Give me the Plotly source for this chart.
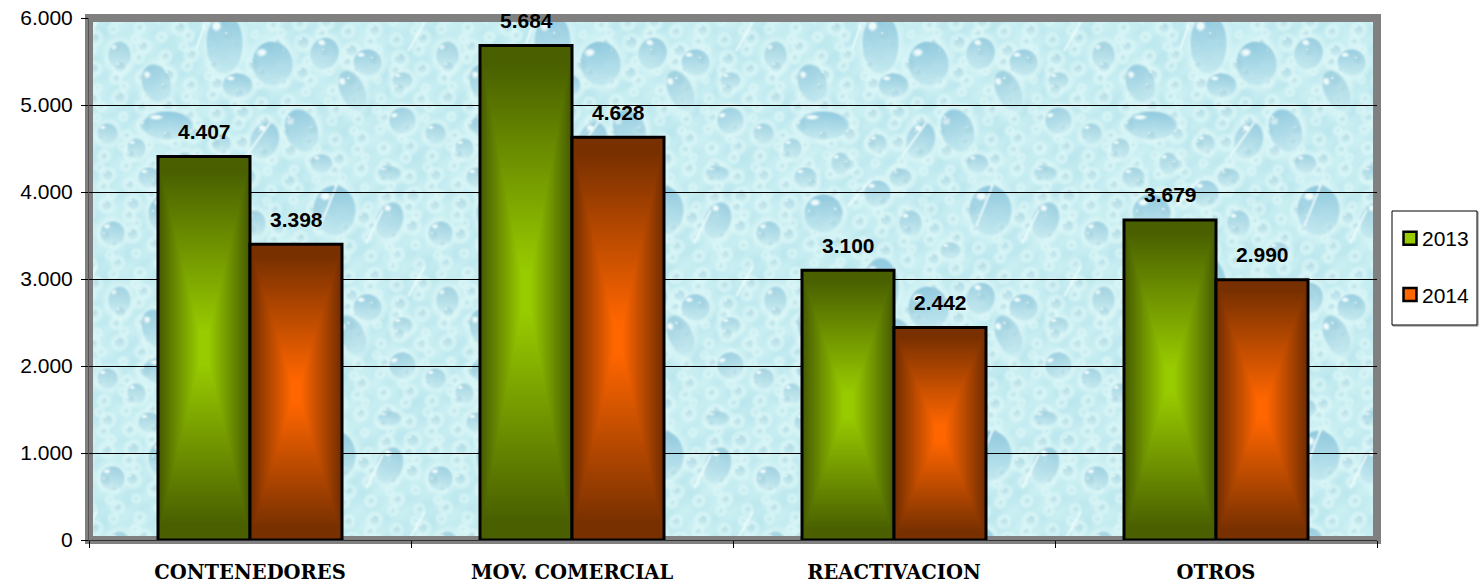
import base64, struct, zlib
import numpy as np
import plotly.graph_objects as go

categories = ["CONTENEDORES", "MOV. COMERCIAL", "REACTIVACION", "OTROS"]
series_names = ["2013", "2014"]
values_2013 = [4407, 5684, 3100, 3679]
values_2014 = [3398, 4628, 2442, 2990]
y_ticks = [0, 1000, 2000, 3000, 4000, 5000, 6000]

# Decorative wallpaper: large water drops of one tile (x, y, rx, ry, angle)
drops = [
    (200, 23, 19, 32, 0), (248, 43, 21, 23, -10), (300, 33, 15, 17, 20), (328, 70, 13, 23, -25),
    (213, 65, 16, 13, 0), (132, 63, 15, 21, -20), (15, 42, 15, 14, 0), (143, 105, 27, 15, 0),
    (277, 110, 17, 23, -20), (50, 100, 14, 14, -20), (83, 113, 11, 11, 0), (240, 120, 15, 20, 20),
    (143, 193, 20, 20, 0), (310, 190, 22, 26, 0), (197, 173, 14, 14, 0), (37, 200, 14, 20, 20),
    (88, 213, 13, 13, 0), (297, 143, 12, 10, 0), (125, 157, 12, 11, 0), (37, 153, 13, 8, 0),
    (160, 143, 10, 12, 0), (197, 123, 10, 10, 0), (220, 157, 12, 10, 0), (230, 203, 12, 14, 0),
    (112, 128, 10, 11, 0), (95, 35, 12, 15, 0), (50, 60, 11, 9, 0), (270, 230, 11, 9, 0),
]
# Decorative wallpaper: pale streaks of the same tile (x0, y0, x1, y1)
streaks = [(180, 5, 172, 28), (72, 2, 56, 30), (245, 103, 222, 135), (312, 165, 296, 205), (190, 160, 168, 185),
           (30, 190, 14, 222)]


def encode_png(data):
    H, W = data.shape[:2]
    raw = b"".join(b"\x00" + data[r].tobytes() for r in range(H))

    def chunk(tag, body):
        return struct.pack(">I", len(body)) + tag + body + struct.pack(">I", zlib.crc32(tag + body))

    png = b"\x89PNG\r\n\x1a\n" + chunk(b"IHDR", struct.pack(">IIBBBBB", W, H, 8, 2, 0, 0, 0)) \
        + chunk(b"IDAT", zlib.compress(raw, 9)) + chunk(b"IEND", b"")
    return "data:image/png;base64," + base64.b64encode(png).decode()


def make_texture():
    tw, th = 328, 245
    yy, xx = np.mgrid[0:th, 0:tw].astype(float)
    wave = (np.sin(2 * np.pi * (3 * xx / tw + 2 * yy / th)) + np.sin(2 * np.pi * (7 * xx / tw - 5 * yy / th) + 1.3)
            + np.sin(2 * np.pi * (13 * xx / tw + 11 * yy / th) + 0.4)) / 3
    img = np.zeros((th, tw, 3)) + np.array([196.0, 236.0, 241.0])
    img += wave[..., None] * np.array([9.0, 5.0, 3.0])
    all_drops = list(drops)
    phi1, phi2 = 0.7548776662, 0.5698402910
    for i in range(1, 260):
        s = 1.8 + 4.5 * ((i * 0.381966) % 1) ** 1.6
        all_drops.append((((i * phi1) % 1) * tw, ((i * phi2) % 1) * th, s, s, 0))
    for (cx, cy, rx, ry, ang) in all_drops:
        for ox in (-tw, 0, tw):
            for oy in (-th, 0, th):
                dx, dy = xx - cx - ox, yy - cy - oy
                d = np.sqrt((dx / (rx + 3)) ** 2 + (dy / (ry + 3)) ** 2)
                m = np.clip((1.2 - d) / 0.3, 0, 1)[..., None]
                img = img * (1 - 0.6 * m) + np.array([222.0, 248.0, 248.0]) * 0.6 * m
    for (cx, cy, rx, ry, ang) in all_drops:
        a = np.deg2rad(ang)
        for ox in (-tw, 0, tw):
            for oy in (-th, 0, th):
                dx, dy = xx - cx - ox, yy - cy - oy
                u = (dx * np.cos(a) + dy * np.sin(a)) / rx
                v = (-dx * np.sin(a) + dy * np.cos(a)) / ry
                d = np.sqrt(u * u + v * v)
                m = np.clip((1.0 - d) * min(rx, ry) / 2.0, 0, 1)
                if m.max() <= 0:
                    continue
                t = np.clip((v + 1) / 2, 0, 1)
                big = min(1.0, rx / 18)
                top = np.array([142.0, 200.0, 222.0]) * big + np.array([165.0, 208.0, 218.0]) * (1 - big)
                alpha = (m * (1 - 0.8 * t) * (0.55 + 0.45 * big))[..., None]
                img = img * (1 - alpha) + top * alpha
                hu, hv = (u + 0.42) / 0.3, (v + 0.55) / 0.2
                h = np.clip((1.0 - np.sqrt(hu * hu + hv * hv)) * 1.8, 0, 1)[..., None]
                img = img * (1 - h) + np.array([240.0, 252.0, 252.0]) * h
    for (x0, y0, x1, y1) in streaks:
        sx, sy = x1 - x0, y1 - y0
        p = np.clip(((xx - x0) * sx + (yy - y0) * sy) / (sx * sx + sy * sy), 0, 1)
        dist = np.hypot(xx - x0 - p * sx, yy - y0 - p * sy)
        h = np.clip(1.6 - dist, 0, 1)[..., None] * 0.85
        img = img * (1 - h) + np.array([238.0, 252.0, 252.0]) * h
    for _ in range(2):
        img = (img * 2 + np.roll(img, 1, 0) + np.roll(img, -1, 0) + np.roll(img, 1, 1) + np.roll(img, -1, 1)) / 6
    W, H = 1288, 522
    full = np.tile(img, (H // th + 2, W // tw + 2, 1))
    x_off = (89 - 24) % tw
    y_off = (18 - 20) % th
    full = full[y_off:y_off + H, x_off:x_off + W]
    return encode_png(np.clip(full, 0, 255).astype(np.uint8))


def make_bar_fill(dark, bright):
    # rectangular "path" gradient: dark along all four edges, bright in the middle
    H, W = 256, 96
    yy, xx = np.mgrid[0:H, 0:W].astype(float)
    px = np.abs(2 * (xx + 0.5) / W - 1)
    py = np.abs(2 * (yy + 0.5) / H - 1)
    fx = np.clip((px - 0.1) / 0.85, 0, 1)
    fy = np.clip((py - 0.08) / 0.84, 0, 1)
    f = np.maximum(fx, fy)[..., None]
    img = np.array(bright, float) * (1 - f) + np.array(dark, float) * f
    return encode_png(np.clip(img, 0, 255).astype(np.uint8))


def es(v):
    return f"{v:,}".replace(",", ".")


fig = go.Figure()
for name, vals, col in zip(series_names, [values_2013, values_2014], ["#99cc00", "#ff6600"]):
    fig.add_bar(x=categories, y=vals, name=name, legendgroup=name,
                marker=dict(color=col, line=dict(color="black", width=3)))

annotations = []
for vals, shift in zip([values_2013, values_2014], [-46, 46]):
    for c, v in zip(categories, vals):
        annotations.append(dict(x=c, y=v, xref="x", yref="y", text=es(v), showarrow=False,
                                xshift=shift, yshift=11.5, yanchor="bottom",
                                font=dict(family="Liberation Sans", size=21, color="black", weight="bold")))

box = dict(x0=(1392 - 89) / 1288, x1=(1477 - 89) / 1288, y0=(540 - 325) / 522, y1=(540 - 211) / 522)
shadow = dict(x0=(1393 - 89) / 1288, x1=(1478 - 89) / 1288, y0=(540 - 326) / 522, y1=(540 - 212) / 522)

fig.update_layout(
    width=1484, height=584, autosize=False,
    margin=dict(l=89, r=107, t=18, b=44, pad=0, autoexpand=False),
    paper_bgcolor="white", plot_bgcolor="white",
    barmode="group", bargap=138 / 322, bargroupgap=0,
    separators=",.",
    font=dict(family="Liberation Sans", size=21, color="black"),
    annotations=annotations,
    images=[dict(source=make_texture(), xref="paper", yref="paper", x=0, y=1, sizex=1, sizey=1,
                 sizing="stretch", xanchor="left", yanchor="top", layer="below")],
    shapes=[
        dict(type="rect", xref="paper", yref="paper", x0=0, x1=1, y0=0, y1=1,
             line=dict(color="#808080", width=8), fillcolor="rgba(0,0,0,0)", layer="between"),
        dict(type="rect", xref="paper", yref="paper", line=dict(color="#808080", width=1),
             fillcolor="white", layer="above", **shadow),
        dict(type="rect", xref="paper", yref="paper", line=dict(color="black", width=1),
             fillcolor="white", layer="above", **box),
    ],
    legend=dict(x=(1382 - 89) / 1288, y=(540 - 218) / 522, xanchor="left", yanchor="top",
                bgcolor="rgba(0,0,0,0)", borderwidth=0, tracegroupgap=26,
                font=dict(family="Liberation Sans", size=21, color="black")),
    xaxis=dict(type="category", categoryorder="array", categoryarray=categories, tickson="boundaries",
               ticks="outside", ticklen=7, tickcolor="black", tickwidth=1, showgrid=False,
               showline=True, linecolor="#333333", linewidth=1, ticklabelstandoff=15,
               tickfont=dict(family="DejaVu Serif", size=19.5, color="black", weight="bold")),
    yaxis=dict(range=[0, 6000], tickvals=y_ticks, tickformat=",d", ticks="outside", ticklen=7,
               tickcolor="black", tickwidth=1, showgrid=True, gridcolor="black", gridwidth=1,
               zeroline=False, showline=True, linecolor="#555555", linewidth=1, ticklabelstandoff=4,
               tickfont=dict(family="Liberation Sans", size=21, color="black")),
)

post = r"""
document.body.style.margin='0';
document.documentElement.style.overflow='hidden';
var gd=document.getElementById('{plot_id}');
function pat(id,src){
 return '<pattern id="'+id+'" patternUnits="objectBoundingBox" patternContentUnits="objectBoundingBox" x="0" y="0" width="1" height="1">'+
 '<image href="'+src+'" x="0" y="0" width="1" height="1" preserveAspectRatio="none"/></pattern>';
}
var defs=gd.querySelector('svg.main-svg defs');
defs.insertAdjacentHTML('beforeend',pat('gGreen','__GREEN__')+pat('gOrange','__ORANGE__'));
var ids=['gGreen','gOrange'];
gd.querySelectorAll('.barlayer .trace').forEach(function(t,i){
 t.querySelectorAll('.point path').forEach(function(p){p.style.setProperty('fill','url(#'+ids[i]+')');});
});
var solid=['#99cc00','#ff6600'];
gd.querySelectorAll('.legend .traces').forEach(function(t,i){
 var g=t.querySelector('.legendpoints');
 if(g){g.setAttribute('transform','translate(8,0)');}
 t.querySelectorAll('.legendpoints path').forEach(function(p){
  p.setAttribute('d','M6.5,6.5H-6.5V-6.5H6.5Z');
  p.style.setProperty('fill',solid[i]);p.style.setProperty('stroke-width','2.5px');
 });
});
"""
post = post.replace("__GREEN__", make_bar_fill((0x4a, 0x60, 0x00), (0x99, 0xcc, 0x00))) \
           .replace("__ORANGE__", make_bar_fill((0x78, 0x30, 0x00), (0xff, 0x66, 0x00)))
fig.write_html("out.html", post_script=post, config=dict(displayModeBar=False))
